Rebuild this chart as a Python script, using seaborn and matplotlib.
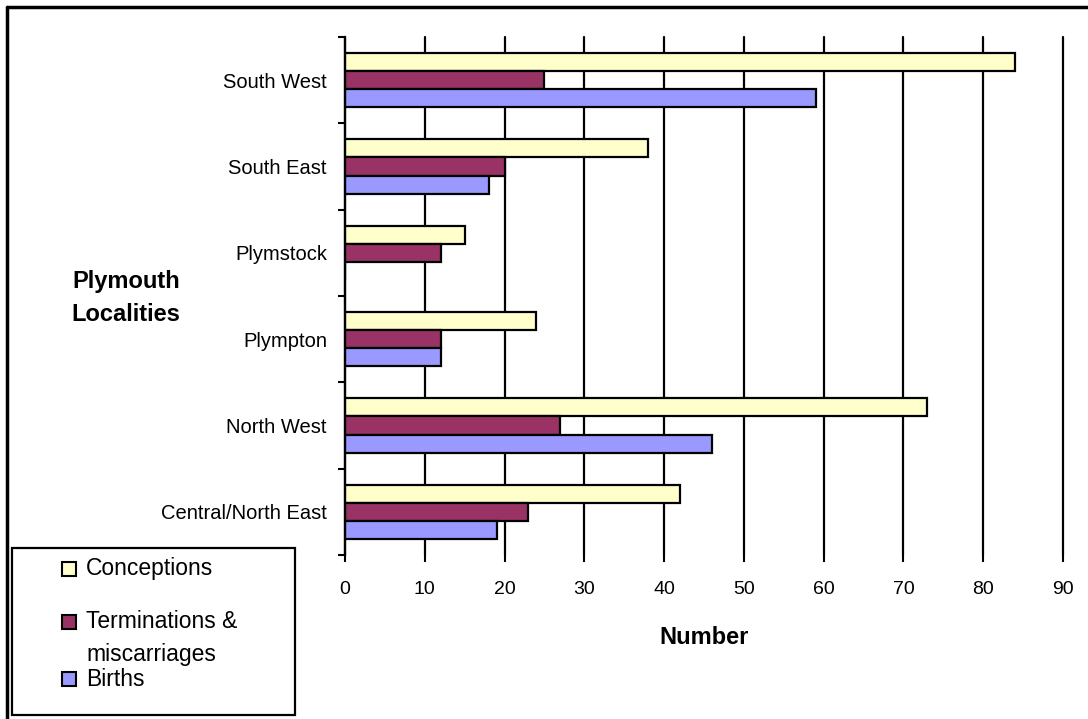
import matplotlib
matplotlib.use('Agg')
import matplotlib.pyplot as plt
from matplotlib.lines import Line2D
from matplotlib.patches import Rectangle
import pandas as pd
import seaborn as sns

# localities, top to bottom
localities = ['South West', 'South East', 'Plymstock', 'Plympton', 'North West', 'Central/North East']
series = ['Conceptions', 'Terminations & miscarriages', 'Births']

conceptions = [84, 38, 15, 24, 73, 42]
terminations = [25, 20, 12, 12, 27, 23]
births = [59, 18, 0, 12, 46, 19]

colors = ['#FFFFCC', '#993366', '#9999FF']

df = pd.DataFrame({
    'Locality': localities * 3,
    'Series': [series[0]] * 6 + [series[1]] * 6 + [series[2]] * 6,
    'Number': conceptions + terminations + births,
})

sns.set_theme(style='white')
plt.rcParams['font.family'] = ['Liberation Sans', 'DejaVu Sans']
plt.rcParams['text.color'] = 'black'

W, H = 1088, 719
fig = plt.figure(figsize=(W / 100, H / 100), dpi=100)
ax = fig.add_axes([345 / W, 1 - 555 / H, (1063 - 345) / W, (555 - 37) / H])

sns.barplot(data=df, y='Locality', x='Number', hue='Series', order=localities,
            hue_order=series, palette=colors, orient='h', width=0.63,
            edgecolor='black', linewidth=1.6, saturation=1, legend=False, ax=ax)

ax.set_xlim(0, 90)
ax.set_ylim(5.5, -0.5)
ax.set_xticks(range(0, 91, 10))
ax.grid(axis='x', color='black', linewidth=1.6)
ax.set_axisbelow(True)
for gl in ax.get_xgridlines():
    gl.set_clip_on(False)
for s in ['top', 'right', 'bottom']:
    ax.spines[s].set_visible(False)
ax.spines['left'].set_color('black')
ax.spines['left'].set_linewidth(1.6)

ax.set_yticks([i - 0.5 for i in range(7)], minor=True)
ax.tick_params(axis='y', which='minor', length=5, width=1.5, color='black', direction='out', left=True)
ax.tick_params(axis='y', which='major', length=0, pad=13, labelsize=14.5, labelcolor='black')
ax.tick_params(axis='x', which='major', length=5, width=1.5, color='black', bottom=True,
               pad=14, labelsize=14, labelcolor='black')
ax.set_ylabel('')
ax.set_xlabel('Number', fontsize=17, fontweight='bold', color='black', labelpad=20)

fig.text(126 / W, 1 - 298 / H, 'Plymouth\nLocalities', fontsize=17, fontweight='bold',
         color='black', ha='center', va='center', linespacing=1.55)

# legend box drawn by hand to match the original layout
fig.add_artist(Rectangle((12 / W, 1 - 715 / H), 283 / W, 167 / H, transform=fig.transFigure,
                         facecolor='white', edgecolor='black', linewidth=1.6))
leg_rows = [(569, ['Conceptions']), (622, ['Terminations &', 'miscarriages']), (679, ['Births'])]
for (yc, lines), c in zip(leg_rows, colors):
    fig.add_artist(Rectangle((62 / W, 1 - (yc + 7) / H), 14 / W, 14 / H, transform=fig.transFigure,
                             facecolor=c, edgecolor='black', linewidth=1.5))
    for k, line in enumerate(lines):
        fig.text(86 / W, 1 - (yc + 33 * k) / H, line, fontsize=16.5, color='black',
                 ha='left', va='center')

# outer border (top and left visible)
fig.add_artist(Line2D([7 / W, 1], [1 - 7 / H, 1 - 7 / H], color='black', linewidth=2.5))
fig.add_artist(Line2D([7 / W, 7 / W], [0, 1 - 7 / H], color='black', linewidth=2.5))

fig.savefig('out.png', dpi=100, facecolor='white')
